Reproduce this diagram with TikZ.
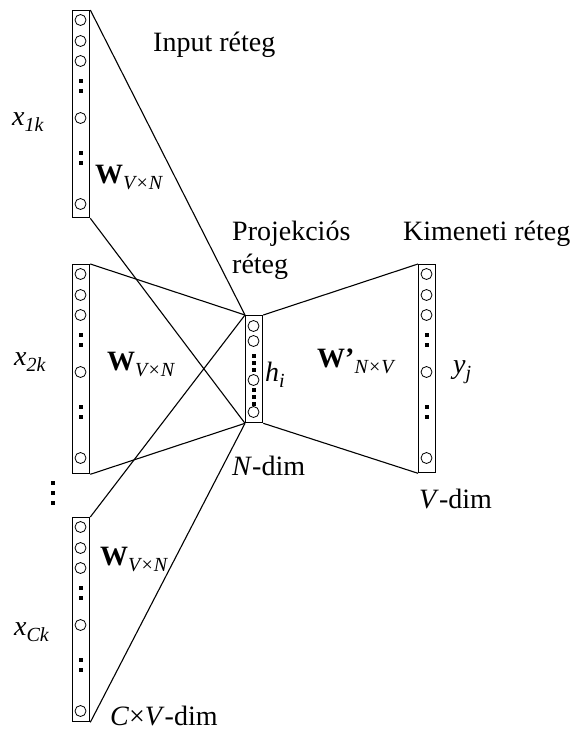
\documentclass[tikz,border=0pt]{standalone}
\usepackage{fontspec}
\setmainfont{Liberation Serif}
\newcommand\sbs[1]{\raisebox{-0.22em}{\fontsize{20}{20}\selectfont\itshape #1}}
\tikzset{
  col/.style={draw, line width=1.3pt, minimum width=17pt, inner sep=0pt, anchor=north west},
  unit/.style={draw, circle, line width=0.8pt, minimum size=11pt, inner sep=0pt},
  sq/.style={fill, minimum size=4pt, inner sep=0pt},
  conn/.style={line width=1.1pt},
  lbl/.style={font=\fontsize{28}{32}\selectfont, inner sep=0pt, anchor=base west},
}
% name, x, top, height
\newcommand\vcolumn[4]{%
  \node[col, minimum height=#4pt] (#1) at (#2,#3) {};
  \foreach \o [count=\k] in {10,31,51,108,194}
    \node[unit] (#1u\k) at (#2+8.5,#3+\o) {};
  \foreach \o [count=\k] in {71,81,143,153}
    \node[sq] (#1d\k) at (#2+8.5,#3+\o) {};
}
\begin{document}
\begin{tikzpicture}[x=1pt,y=-1pt]
\useasboundingbox (0,0) rectangle (582,731);
% input columns
\vcolumn{ca}{72}{10}{207}
\vcolumn{cb}{72}{264}{209}
\vcolumn{cc}{72}{517}{204}
% output column
\vcolumn{co}{418}{264}{208}
% hidden column
\node[col, minimum height=107pt] (h) at (245,315) {};
\foreach \o [count=\k] in {11,26,65,97}
  \node[unit] (hu\k) at (253.5,315+\o) {};
\foreach \o [count=\k] in {41,48,55,75,82,89}
  \node[sq] (hd\k) at (253.5,315+\o) {};
% vertical dots between columns
\foreach \o [count=\k] in {483,493,503}
  \node[sq] (vd\k) at (53,\o) {};
% connectors
\draw[conn] (ca.north east) -- (h.north west);
\draw[conn] (ca.south east) -- (h.south west);
\draw[conn] (cb.north east) -- (h.north west);
\draw[conn] (cb.south east) -- (h.south west);
\draw[conn] (cc.north east) -- (h.north west);
\draw[conn] (cc.south east) -- (h.south west);
\draw[conn] (h.north east) -- (co.north west);
\draw[conn] (h.south east) -- (co.south west);
% labels
\node[lbl] (t1) at (153,51) {Input réteg};
\node[lbl] (t2) at (232,240) {Projekciós};
\node[lbl] (t3) at (232,273) {réteg};
\node[lbl] (t4) at (403,240) {Kimeneti réteg};
\node[lbl] (x1) at (12,125) {\textit{x}\sbs{1k}};
\node[lbl] (x2) at (14,365) {\textit{x}\sbs{2k}};
\node[lbl] (x3) at (14,635) {\textit{x}\sbs{Ck}};
\node[lbl] (w1) at (95,183) {\textbf{W}\sbs{V×N}};
\node[lbl] (w2) at (107,370) {\textbf{W}\sbs{V×N}};
\node[lbl] (w3) at (100,565) {\textbf{W}\sbs{V×N}};
\node[lbl] (hi) at (265,381) {\textit{h}\sbs{i}};
\node[lbl] (wp) at (317,367) {\textbf{W’}\sbs{N×V}};
\node[lbl] (yj) at (453,373) {\textit{y}\sbs{j}};
\node[lbl] (nd) at (232,475) {\textit{N}-dim};
\node[lbl] (vdim) at (419,508) {\textit{V}-dim};
\node[lbl] (cv) at (110,725) {\textit{C}×\textit{V}-dim};
\end{tikzpicture}
\end{document}
